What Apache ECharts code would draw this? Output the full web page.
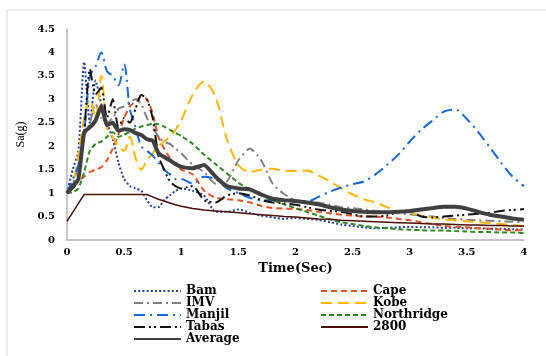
<!DOCTYPE html>
<html><head><meta charset="utf-8">
<script src="https://cdn.jsdelivr.net/npm/echarts@6/dist/echarts.min.js"></script>
<style>html,body{margin:0;padding:0;background:#fff}#c{width:546px;height:356px}</style>
</head><body><div id="c"></div>
<script>
const times = [0,0.05,0.1,0.15,0.2,0.25,0.3,0.35,0.4,0.45,0.5,0.55,0.6,0.65,0.7,0.75,0.8,0.85,0.9,0.95,1.0,
  1.1,1.2,1.3,1.4,1.5,1.6,1.7,1.8,1.9,2.0,2.1,2.2,2.3,2.4,2.5,2.6,2.7,2.8,2.9,3.0,3.1,3.2,3.3,3.4,3.5,3.6,3.7,3.8,3.9,4.0];
const xTicks = [0,0.5,1,1.5,2,2.5,3,3.5,4];
const yTicks = [0,0.5,1,1.5,2,2.5,3,3.5,4,4.5];

const bam = [1.0,1.5,1.9,3.8,2.5,3.4,2.9,2.5,2.15,1.65,1.3,1.15,1.1,1.05,0.85,0.7,0.7,0.85,0.95,1.05,1.1,
  1.05,0.95,0.6,0.6,0.65,0.58,0.52,0.48,0.45,0.47,0.45,0.43,0.38,0.33,0.3,0.27,0.25,0.26,0.27,0.28,0.27,0.27,0.26,0.26,0.25,0.25,0.24,0.24,0.23,0.22];
const cape = [1.0,1.1,1.25,1.35,1.45,1.5,1.55,1.7,1.95,2.25,2.6,2.85,2.95,3.05,3.0,2.7,2.2,1.95,1.75,1.6,1.5,
  1.4,1.05,0.9,0.87,0.85,0.8,0.73,0.68,0.67,0.66,0.64,0.6,0.57,0.54,0.52,0.5,0.5,0.48,0.45,0.42,0.38,0.34,0.3,0.28,0.27,0.25,0.24,0.22,0.21,0.21];
const imv = [1.0,1.2,1.6,2.2,2.5,2.9,2.6,2.5,2.6,2.8,2.85,2.95,3.0,2.9,2.6,2.4,2.2,2.1,2.05,1.95,1.85,
  1.6,1.45,1.2,1.25,1.7,1.95,1.7,1.2,0.98,0.85,0.82,0.8,0.75,0.7,0.68,0.65,0.62,0.6,0.57,0.55,0.52,0.5,0.47,0.45,0.43,0.42,0.41,0.4,0.39,0.38];
const kobe = [1.0,1.2,1.8,2.6,3.0,2.6,3.5,2.4,2.2,2.0,1.9,2.2,1.75,1.5,1.7,1.85,2.0,2.1,2.2,2.35,2.55,
  3.1,3.38,3.05,2.15,1.6,1.45,1.5,1.52,1.47,1.47,1.48,1.38,1.25,1.1,0.97,0.87,0.8,0.7,0.62,0.57,0.52,0.48,0.44,0.42,0.4,0.38,0.36,0.34,0.32,0.3];
const manjil = [1.0,1.3,1.6,2.3,3.5,3.7,4.0,3.6,3.5,3.3,3.75,2.8,2.4,2.0,1.9,1.8,1.65,1.5,1.4,1.3,1.3,
  1.2,1.35,1.3,1.1,1.0,0.9,0.85,0.85,0.84,0.82,0.82,0.92,1.03,1.12,1.19,1.25,1.4,1.6,1.82,2.1,2.35,2.55,2.74,2.78,2.58,2.3,1.98,1.65,1.35,1.15];
const northridge = [1.0,1.02,1.1,1.45,1.9,2.05,2.1,2.2,2.3,2.2,2.25,2.3,2.38,2.42,2.45,2.48,2.47,2.42,2.35,2.28,2.22,
  2.05,1.82,1.62,1.42,1.22,1.08,0.95,0.85,0.76,0.68,0.6,0.52,0.44,0.38,0.34,0.3,0.27,0.25,0.23,0.22,0.21,0.2,0.2,0.19,0.18,0.17,0.17,0.16,0.16,0.15];
const tabas = [1.0,1.1,1.3,2.3,3.65,3.1,3.25,2.6,3.0,2.4,2.6,2.5,2.8,3.1,3.0,2.6,1.8,1.5,1.25,1.15,1.1,
  1.15,0.85,0.8,0.95,1.0,0.95,0.85,0.8,0.78,0.75,0.7,0.65,0.62,0.6,0.55,0.5,0.5,0.52,0.6,0.62,0.5,0.48,0.5,0.52,0.54,0.56,0.58,0.62,0.64,0.66];
const code2800 = [0.4,0.59,0.78,0.97,0.97,0.97,0.97,0.97,0.97,0.97,0.97,0.97,0.97,0.97,0.97,0.92,0.87,0.83,0.79,0.75,0.72,
  0.67,0.64,0.62,0.6,0.58,0.56,0.54,0.52,0.5,0.49,0.47,0.45,0.44,0.42,0.41,0.4,0.39,0.38,0.37,0.36,0.35,0.34,0.34,0.33,0.32,0.32,0.31,0.31,0.3,0.3];
const average = [1.0,1.15,1.3,2.3,2.4,2.55,2.85,2.45,2.5,2.33,2.36,2.35,2.28,2.24,2.15,2.12,1.85,1.77,1.7,1.62,1.56,
  1.53,1.6,1.35,1.15,1.1,1.08,0.97,0.88,0.85,0.83,0.8,0.76,0.7,0.65,0.62,0.6,0.59,0.59,0.6,0.62,0.65,0.68,0.71,0.71,0.67,0.6,0.54,0.5,0.46,0.43];

const serif = 'DejaVu Serif';
function mk(name, vals, color, type, width, smooth, z) {
  return {
    name: name, type: 'line', symbol: 'none', smooth: smooth, z: z || 2,
    data: times.map((t, i) => [t, vals[i]]),
    lineStyle: { color: color, width: width, type: type, cap: 'butt' },
    itemStyle: { color: color }
  };
}
const series = [
  mk('Bam', bam, '#233f9c', [2, 2.2], 2, 0.2),
  mk('Cape', cape, '#e8501e', [6, 4], 2, 0.2),
  mk('IMV', imv, '#808080', [9, 4, 2, 4], 2, 0.2),
  mk('Kobe', kobe, '#ffb400', [11, 6], 2, 0.3),
  mk('Manjil', manjil, '#1767da', [11, 5, 2, 5], 2, 0.3),
  mk('Northridge', northridge, '#2e8a1e', [5, 3], 2, 0.2),
  mk('Tabas', tabas, '#111111', [11, 4, 2, 3, 2, 4], 2, 0.2),
  mk('2800', code2800, '#4a1008', 'solid', 1.5, false),
  mk('Average', average, '#404040', 'solid', 4, 0.15, 5)
];
const legText = { fontFamily: serif, fontWeight: 'bold', fontSize: 12, color: '#000', lineHeight: 12 };
const legCommon = { orient: 'vertical', top: 285, itemWidth: 47, itemHeight: 8, itemGap: 0, padding: 0,
  textStyle: legText, itemStyle: { color: 'rgba(0,0,0,0)', borderWidth: 0, opacity: 0 } };
const chart = echarts.init(document.getElementById('c'));
chart.setOption({
  animation: false,
  backgroundColor: '#fff',
  graphic: [{ type: 'rect', shape: { x: 7, y: 10, width: 600, height: 400 }, style: { fill: 'none', stroke: '#d9d9d9', lineWidth: 1 }, silent: true }],
  grid: { left: 67, right: 22, top: 29, bottom: 116 },
  legend: [
    Object.assign({ data: ['Bam', 'IMV', 'Manjil', 'Tabas', 'Average'], left: 133 }, legCommon),
    Object.assign({ data: ['Cape', 'Kobe', 'Northridge', '2800'], left: 320 }, legCommon)
  ],
  xAxis: {
    type: 'value', min: 0, max: 4, interval: 0.5,
    name: 'Time(Sec)', nameLocation: 'middle', nameGap: 21,
    nameTextStyle: { fontFamily: serif, fontWeight: 'bold', fontSize: 13, color: '#000' },
    axisLine: { lineStyle: { color: '#b3b3b3', width: 1.5 } },
    axisTick: { show: false }, splitLine: { show: false },
    axisLabel: { margin: 7, fontFamily: serif, fontWeight: 'bold', fontSize: 10, color: '#000' }
  },
  yAxis: {
    type: 'value', min: 0, max: 4.5, interval: 0.5,
    name: 'Sa(g)', nameLocation: 'middle', nameGap: 36,
    nameTextStyle: { fontFamily: 'Liberation Serif', fontSize: 12, color: '#000' },
    axisLine: { show: true, lineStyle: { color: '#b3b3b3', width: 1.5 } },
    axisTick: { show: false }, splitLine: { show: false },
    axisLabel: { margin: 12, fontFamily: serif, fontWeight: 'bold', fontSize: 10, color: '#000' }
  },
  series: series
});
</script></body></html>
